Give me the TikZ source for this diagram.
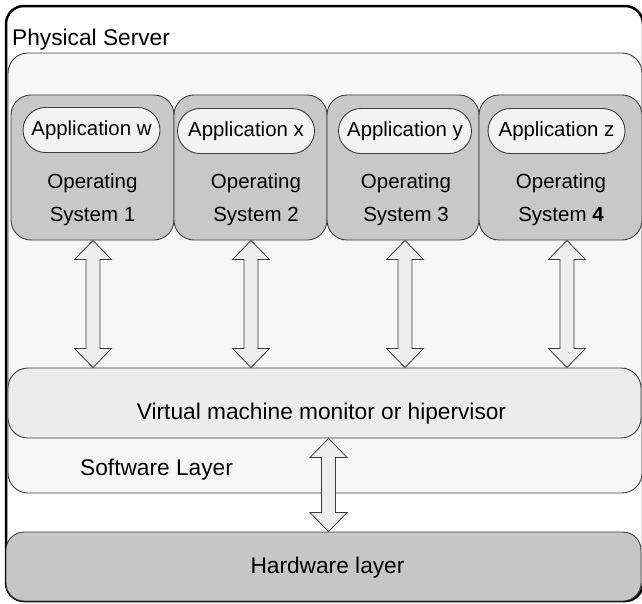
\documentclass[tikz,border=0pt]{standalone}
\usepackage{fontspec}
\setmainfont{Liberation Sans}
\usetikzlibrary{calc}
\definecolor{osgray}{RGB}{200,200,200}
\definecolor{hwgray}{RGB}{198,198,198}
\definecolor{appfill}{RGB}{243,243,243}
\definecolor{swfill}{RGB}{247,247,247}
\definecolor{vmmfill}{RGB}{236,236,236}
\definecolor{arrfill}{RGB}{238,238,238}
\definecolor{edgegray}{RGB}{60,60,60}
\tikzset{
  layerbox/.style={draw=edgegray, line width=0.9pt, inner sep=0pt, rectangle},
  osbox/.style={layerbox, fill=osgray, rounded corners=20pt, minimum height=145, minimum width=152},
  appbox/.style={layerbox, fill=appfill, rounded corners=22.5pt, minimum height=45, minimum width=137,
    font=\fontsize{20.4}{24}\selectfont},
  ostext/.style={align=center, inner sep=0pt, font=\fontsize{20.5}{33}\selectfont},
  bigtext/.style={inner sep=0pt, font=\fontsize{22.7}{27}\selectfont},
  blockarr/.style={draw=edgegray, line width=0.8pt, fill=arrfill, line join=miter},
}
% double-headed block arrow between two points on one vertical
\newcommand\blockarrow[2]{%
  \draw[blockarr] let \p1=(#1), \p2=(#2) in
    (\x1,\y1) -- ({\x1+18.5pt},{\y1-19pt}) -- ({\x1+7pt},{\y1-19pt})
    -- ({\x1+7pt},{\y2+19pt}) -- ({\x1+18.5pt},{\y2+19pt}) -- (\x1,\y2)
    -- ({\x1-18.5pt},{\y2+19pt}) -- ({\x1-7pt},{\y2+19pt})
    -- ({\x1-7pt},{\y1-19pt}) -- ({\x1-18.5pt},{\y1-19pt}) -- cycle;}
\begin{document}
\begin{tikzpicture}[x=1pt,y=-1pt]
\useasboundingbox (0,0) rectangle (642,603);
\begin{scope}
\clip (0,0) rectangle (642,603);
% physical server frame
\node[draw=black, line width=2.5pt, rounded corners=18pt, minimum width=637, minimum height=595,
  inner sep=0pt] (server) at (324.5,303.5) {};
\node[bigtext, anchor=base west] (servertitle) at (12,45) {Physical Server};
% software layer
\node[layerbox, fill=swfill, rounded corners=20pt, minimum width=634, minimum height=440]
  (sw) at (325,273) {};
\node[bigtext, anchor=west] (swtitle) at (80,470) {Software Layer};
% guest operating systems
\node[osbox, minimum width=163] (os1) at (92.5,167.5) {};
\node[osbox, minimum width=153] (os2) at (250.5,167.5) {};
\node[osbox, minimum width=152] (os3) at (403,167.5) {};
\node[osbox, minimum width=163] (os4) at (560.5,167.5) {};
\node[appbox] (appw) at (91.5,130) {Application w};
\node[appbox] (appx) at (246,131) {Application x};
\node[appbox, minimum width=133] (appy) at (405,131) {Application y};
\node[appbox] (appz) at (556.5,131) {Application z};
\node[ostext] (ost1) at (92.5,199.5) {Operating\\System 1};
\node[ostext] (ost2) at (256,199.5) {Operating\\System 2};
\node[ostext] (ost3) at (406,199.5) {Operating\\System 3};
\node[ostext] (ost4) at (561,199.5) {Operating\\System \textbf{4}};
% hypervisor
\node[layerbox, fill=vmmfill, rounded corners=20pt, minimum width=633, minimum height=70]
  (vmm) at (324.5,403) {};
\node[bigtext] (vmmtext) at (321.5,414) {Virtual machine monitor or hipervisor};
% hardware
\node[layerbox, fill=hwgray, rounded corners=18pt, minimum width=635, minimum height=69]
  (hw) at (323.5,566.5) {};
\node[bigtext] (hwtext) at (327.5,568) {Hardware layer};
% links between the layers
\coordinate (t1) at ([xshift=0.5pt]os1.south);
\coordinate (t2) at ([xshift=0.5pt]os2.south);
\coordinate (t3) at ([xshift=2pt]os3.south);
\coordinate (t4) at ([xshift=6.5pt]os4.south);
\coordinate (t5) at ([xshift=4pt]vmm.south);
\blockarrow{t1}{t1 |- vmm.north}
\blockarrow{t2}{t2 |- vmm.north}
\blockarrow{t3}{t3 |- vmm.north}
\blockarrow{t4}{t4 |- vmm.north}
\blockarrow{t5}{t5 |- hw.north}
\end{scope}
\end{tikzpicture}
\end{document}
